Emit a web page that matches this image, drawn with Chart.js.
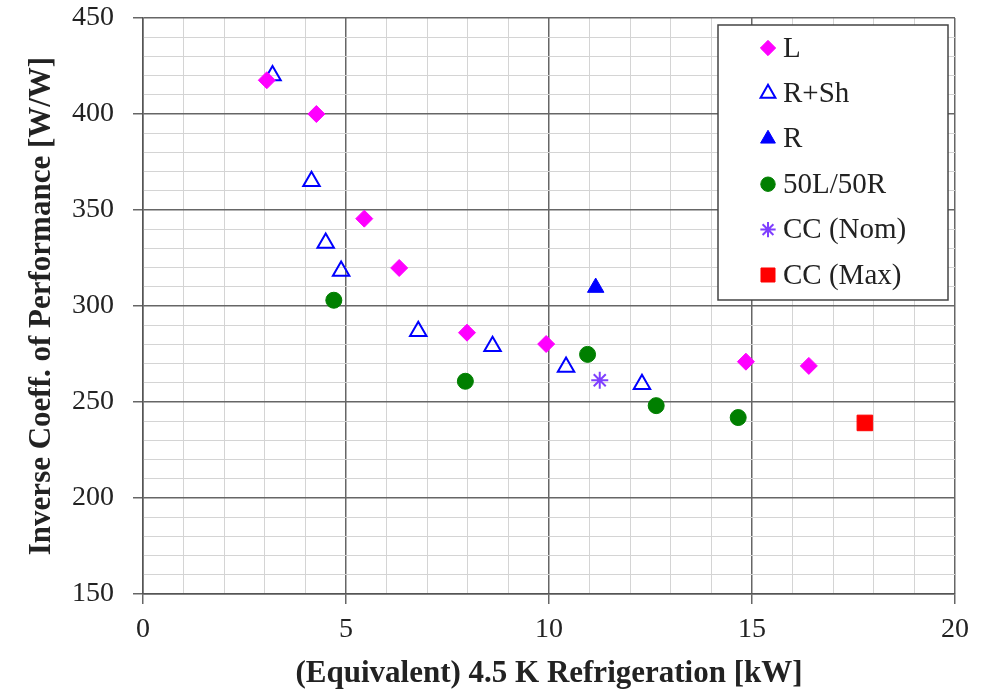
<!DOCTYPE html>
<html>
<head>
<meta charset="utf-8">
<script src="https://cdn.jsdelivr.net/npm/chart.js@4.4.1/dist/chart.umd.min.js"></script>
<style>
  html, body { margin: 0; padding: 0; background: #fff; }
</style>
</head>
<body>
<canvas id="cop-chart" width="981" height="693"></canvas>
<script>
// values
var seriesNames = ['L', 'R+Sh', 'R', '50L/50R', 'CC (Nom)', 'CC (Max)'];

var lX = [3.05, 4.27, 5.45, 6.31, 7.98, 9.93, 14.85, 16.40];
var lY = [417.6, 400, 345.5, 319.8, 286.1, 280.2, 271, 268.8];

var rshX = [3.19, 4.15, 4.50, 4.88, 6.78, 8.61, 10.42, 12.29];
var rshY = [420, 365, 332.8, 318.2, 286.8, 279, 268.2, 259.2];

var rX = [11.15];
var rY = [309.6];

var mixX = [4.70, 7.94, 10.95, 12.64, 14.66];
var mixY = [303, 260.8, 274.8, 248.1, 241.9];

var ccNomX = [11.25];
var ccNomY = [261.3];

var ccMaxX = [17.78];
var ccMaxY = [239.1];

var xTitle = '(Equivalent) 4.5 K Refrigeration [kW]';
var yTitle = 'Inverse Coeff. of Performance [W/W]';

function pts(xs, ys) {
    return xs.map(function (x, i) { return { x: x, y: ys[i] }; });
}

var serif = '"Liberation Serif", "Times New Roman", serif';

// legend box drawn inside the plot, top right
var boxLegend = {
    id: 'boxLegend',
    afterDraw: function (chart) {
        var c = chart.ctx;
        var left = 718, top = 25, w = 230, h = 275;
        c.save();
        c.fillStyle = '#fff';
        c.fillRect(left, top, w, h);
        c.strokeStyle = '#444';
        c.lineWidth = 1.5;
        c.strokeRect(left, top, w, h);
        c.font = '29px ' + serif;
        c.textBaseline = 'middle';
        chart.data.datasets.forEach(function (ds, i) {
            var y = 48 + i * 45.4;
            c.fillStyle = ds.backgroundColor;
            c.strokeStyle = ds.borderColor;
            c.lineWidth = ds.borderWidth;
            Chart.helpers.drawPoint(c, {
                pointStyle: ds.pointStyle,
                radius: ds.pointRadius * 0.9,
                rotation: 0,
                borderWidth: ds.borderWidth
            }, 768, y);
            c.fillStyle = '#222';
            c.fillText(ds.label, 783, y + 1);
        });
        c.restore();
    }
};

var ctx = document.getElementById('cop-chart');

var chart = new Chart(ctx, {
    type: 'scatter',
    data: {
        datasets: [{
            label: seriesNames[0],
            data: pts(lX, lY),
            pointStyle: 'rectRot',
            pointRadius: 8.5,
            backgroundColor: '#ff00ff',
            borderColor: '#ff00ff',
            borderWidth: 1
        }, {
            label: seriesNames[1],
            data: pts(rshX, rshY),
            pointStyle: 'triangle',
            pointRadius: 9.5,
            backgroundColor: 'rgba(255,255,255,0)',
            borderColor: '#0000ff',
            borderWidth: 2
        }, {
            label: seriesNames[2],
            data: pts(rX, rY),
            pointStyle: 'triangle',
            pointRadius: 9.5,
            backgroundColor: '#0000ff',
            borderColor: '#0000ff',
            borderWidth: 1
        }, {
            label: seriesNames[3],
            data: pts(mixX, mixY),
            pointStyle: 'circle',
            pointRadius: 8,
            backgroundColor: '#007f00',
            borderColor: '#007f00',
            borderWidth: 1
        }, {
            label: seriesNames[4],
            data: pts(ccNomX, ccNomY),
            pointStyle: 'star',
            pointRadius: 8.5,
            backgroundColor: '#7f3fff',
            borderColor: '#7f3fff',
            borderWidth: 2
        }, {
            label: seriesNames[5],
            data: pts(ccMaxX, ccMaxY),
            pointStyle: 'rect',
            pointRadius: 11,
            backgroundColor: '#ff0000',
            borderColor: '#ff0000',
            borderWidth: 1
        }]
    },
    options: {
        responsive: false,
        animation: false,
        devicePixelRatio: 1,
        layout: { padding: { top: 18, right: 26, left: 0, bottom: 0 } },
        plugins: {
            legend: { display: false },
            tooltip: { enabled: false }
        },
        scales: {
            x: {
                type: 'linear',
                min: 0,
                max: 20,
                afterFit: function (s) {
                    s.height = 99;
                    s.paddingLeft = 0;
                    s.paddingRight = 0;
                },
                ticks: {
                    stepSize: 1,
                    autoSkip: false,
                    maxRotation: 0,
                    padding: 9,
                    color: '#222',
                    font: { family: serif, size: 28 },
                    callback: function (v) { return v % 5 === 0 ? v : ''; }
                },
                grid: {
                    color: function (c) { return c.tick && c.tick.value % 5 === 0 ? '#666' : '#d4d4d4'; },
                    lineWidth: function (c) { return c.tick && c.tick.value % 5 === 0 ? 1.5 : 1; },
                    tickColor: function (c) { return c.tick && c.tick.value % 5 === 0 ? '#666' : 'rgba(0,0,0,0)'; },
                    tickLength: 10
                },
                border: { color: '#555', width: 1.5 },
                title: {
                    display: true,
                    text: xTitle,
                    color: '#222',
                    font: { family: serif, size: 31, weight: 'bold' },
                    padding: { top: 0, bottom: 0 }
                }
            },
            y: {
                type: 'linear',
                min: 150,
                max: 450,
                afterFit: function (s) {
                    s.width = 143;
                    s.paddingTop = 0;
                    s.paddingBottom = 0;
                },
                ticks: {
                    stepSize: 10,
                    autoSkip: false,
                    padding: 19,
                    color: '#222',
                    font: { family: serif, size: 28 },
                    callback: function (v) { return v % 50 === 0 ? v : ''; }
                },
                grid: {
                    color: function (c) { return c.tick && c.tick.value % 50 === 0 ? '#666' : '#d4d4d4'; },
                    lineWidth: function (c) { return c.tick && c.tick.value % 50 === 0 ? 1.5 : 1; },
                    tickColor: function (c) { return c.tick && c.tick.value % 50 === 0 ? '#666' : 'rgba(0,0,0,0)'; },
                    tickLength: 10
                },
                border: { color: '#555', width: 1.5 },
                title: {
                    display: true,
                    text: yTitle,
                    color: '#222',
                    font: { family: serif, size: 31, weight: 'bold' },
                    padding: { top: 23, bottom: 0 }
                }
            }
        }
    },
    plugins: [boxLegend]
});
</script>
</body>
</html>
